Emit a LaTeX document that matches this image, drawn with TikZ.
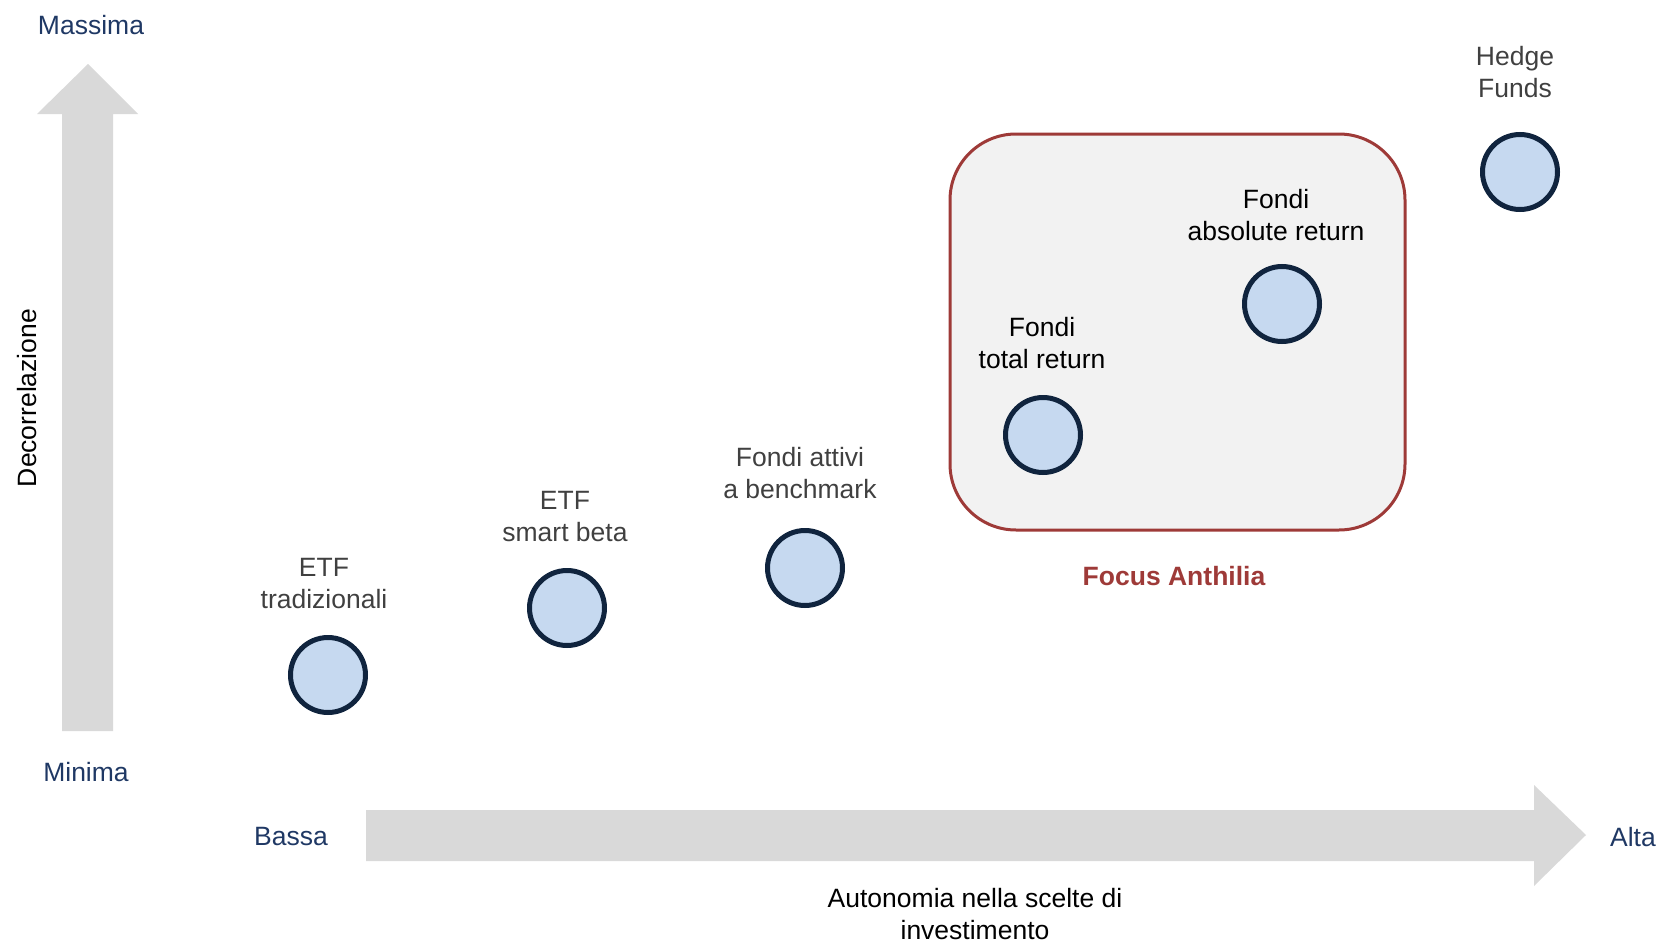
\documentclass[tikz,border=0pt]{standalone}
\usepackage{fontspec}
\setmainfont{Liberation Sans}
\usetikzlibrary{positioning}
\definecolor{axisblue}{HTML}{1F3864}
\definecolor{arrowgray}{HTML}{D9D9D9}
\definecolor{dotblue}{HTML}{C6D9F0}
\definecolor{dotline}{HTML}{10243E}
\definecolor{focusred}{HTML}{9E3A38}
\definecolor{boxgray}{HTML}{F2F2F2}
\definecolor{labelgray}{HTML}{404040}
\tikzset{
  product/.style={circle, draw=dotline, fill=dotblue, line width=2.5pt,
    minimum size=37.5pt, inner sep=0pt},
  prodlabel/.style={align=center, text=labelgray, inner sep=0pt,
    font=\fontsize{13.25}{16}\selectfont},
  axislabel/.style={text=axisblue, inner sep=0pt,
    font=\fontsize{13.25}{16}\selectfont},
}

\begin{document}
\begin{tikzpicture}[x=0.5pt,y=-0.5pt]
    \useasboundingbox (0,0) rectangle (1661,942);
    % axes as block arrows
    \fill[arrowgray] (62,731) -- (62,114) -- (37,114) -- (88,64)
      -- (138,114) -- (113,114) -- (113,731) -- cycle;
    \fill[arrowgray] (366,810) -- (1534,810) -- (1534,785) -- (1586,835)
      -- (1534,886) -- (1534,861) -- (366,861) -- cycle;
    \node[axislabel] (massima) at (91,25) {Massima};
    \node[axislabel] (minima) at (86,772) {Minima};
    \node[axislabel] (bassa) at (291,837) {Bassa};
    \node[axislabel] (alta) at (1633,837) {Alta};
    \node[prodlabel, text=black, rotate=90] (ylab) at (27,398) {Decorrelazione};
    \node[prodlabel, text=black] (xlab) at (975,914) {Autonomia nella scelte di\\investimento};
    % focus area
    \draw[focusred, fill=boxgray, line width=1.5pt, rounded corners=33pt]
      (950,134) rectangle (1405,530);
    \node[prodlabel, text=focusred, font=\fontsize{13.25}{16}\selectfont\bfseries]
      (focus) at (1174,576) {Focus Anthilia};
    % products
    \node[product] (etftrad) at (328,675) {};
    \node[product] (etfsmart) at (567,608) {};
    \node[product] (attivi) at (805,568) {};
    \node[product] (total) at (1043,435) {};
    \node[product] (absolute) at (1282,304) {};
    \node[product] (hedge) at (1520,172) {};
    \node[prodlabel] (etftradlab) at (324,584) {ETF\\tradizionali};
    \node[prodlabel] (etfsmartlab) at (565,517) {ETF\\smart beta};
    \node[prodlabel] (attivilab) at (800,473) {Fondi attivi\\a benchmark};
    \node[prodlabel, text=black] (totallab) at (1042,343) {Fondi\\total return};
    \node[prodlabel, text=black] (absolutelab) at (1276,215) {Fondi\\absolute return};
    \node[prodlabel] (hedgelab) at (1515,72) {Hedge\\Funds};
\end{tikzpicture}
\end{document}
